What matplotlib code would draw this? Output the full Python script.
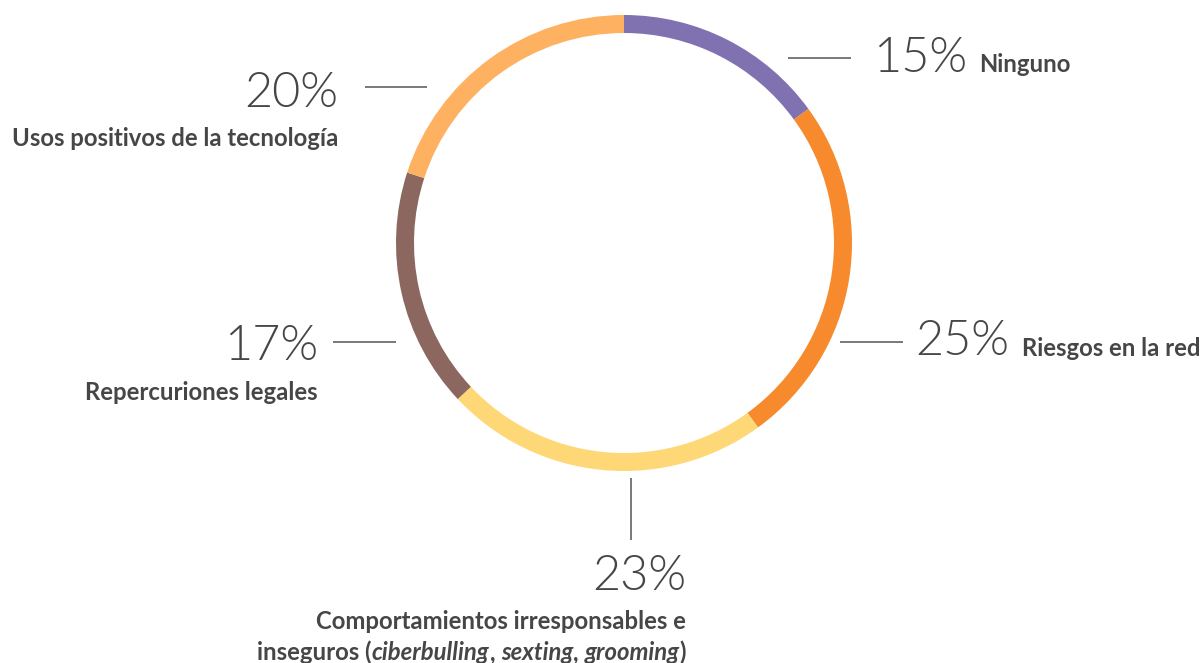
import matplotlib.pyplot as plt

W, H = 1203, 663

labels = ["Ninguno", "Riesgos en la red",
          "Comportamientos irresponsables e inseguros",
          "Repercuriones legales", "Usos positivos de la tecnología"]
values = [15, 25, 23, 17, 20]
colors = ["#8072b1", "#f68a2d", "#fed877", "#8b6760", "#feb161"]

TXT = "#464646"
LINE = "#555555"
PCT_SIZE = 35
LBL_SIZE = 17.2

plt.rcParams["font.family"] = ["Lato", "DejaVu Sans"]

fig = plt.figure(figsize=(W / 100, H / 100), dpi=100)
ax = fig.add_axes([0, 0, 1, 1])


def Y(y):
    # pixel row (from top) -> data y
    return H - y


ax.pie(values, colors=colors, startangle=90, counterclock=False,
       center=(624, Y(243)), radius=228,
       wedgeprops=dict(width=18, linewidth=0))

ax.set_xlim(0, W)
ax.set_ylim(0, H)
ax.axis("off")


def pct(x, y, v, ha):
    return ax.text(x, Y(y), f"{v}%", ha=ha, va="baseline", fontsize=PCT_SIZE,
                   fontweight=300, color=TXT)


def lbl(x, y, s, ha, **kw):
    return ax.text(x, Y(y), s, ha=ha, va="baseline", fontsize=LBL_SIZE,
                   fontweight="bold", color=TXT, **kw)


def hline(x0, x1, y):
    ax.plot([x0, x1], [Y(y), Y(y)], color=LINE, lw=1.1, solid_capstyle="butt")


# Ninguno
hline(788, 851, 58)
pct(873, 72, values[0], "left")
lbl(979, 72, labels[0], "left")

# Riesgos en la red
hline(840, 903, 342)
pct(915, 355, values[1], "left")
lbl(1022, 356, labels[1], "left")

# Comportamientos
ax.plot([631, 631], [Y(478), Y(540)], color=LINE, lw=1.1, solid_capstyle="butt")
pct(686, 590, values[2], "right")
lbl(686, 629, "Comportamientos irresponsables e", "right")
pieces = [("inseguros (", "normal"), ("ciberbulling", "italic"), (", ", "normal"),
          ("sexting", "italic"), (", ", "normal"), ("grooming", "italic"),
          (")", "normal")]
prev = None
for s, style in reversed(pieces):
    if prev is None:
        prev = lbl(686, 660, s, "right", fontstyle=style)
    else:
        prev = ax.annotate(s, xy=(0, Y(660)), xycoords=(prev, "data"),
                           ha="right", va="baseline", fontsize=LBL_SIZE,
                           fontweight="bold", fontstyle=style, color=TXT)

# Repercuriones legales
hline(333, 396, 342)
pct(318, 360, values[3], "right")
lbl(318, 400, labels[3], "right")

# Usos positivos
hline(365, 427, 87)
pct(338, 107, values[4], "right")
lbl(338, 146, labels[4], "right")

fig.savefig("out.png", dpi=100)
